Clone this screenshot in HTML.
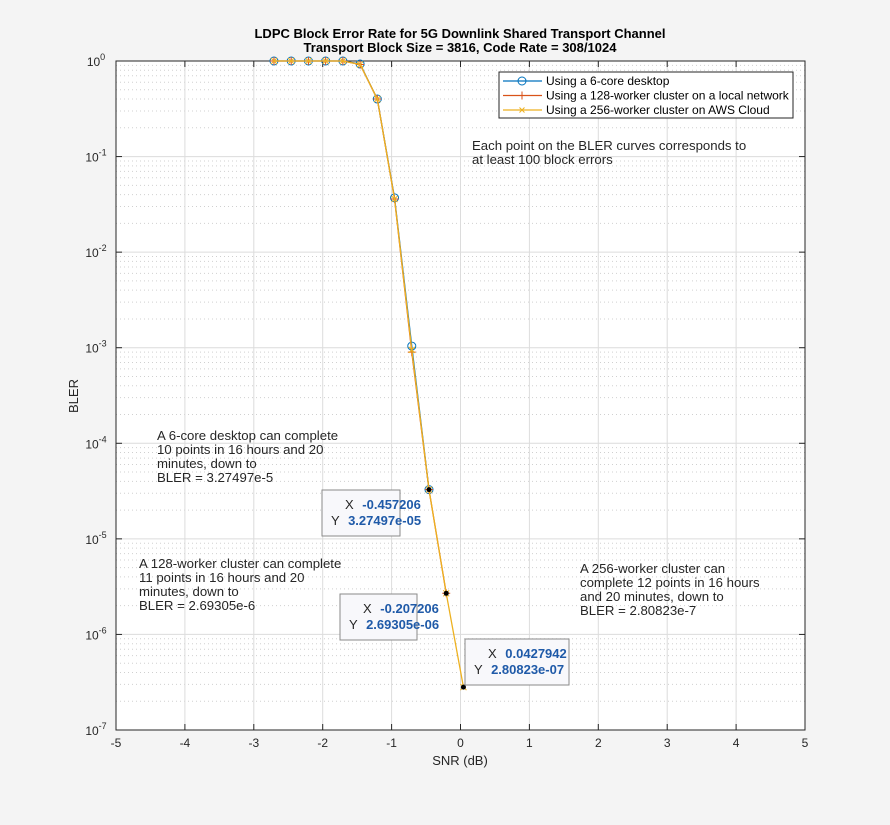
<!DOCTYPE html>
<html><head><meta charset="utf-8"><style>
body{margin:0;background:#f4f4f4;font-family:"Liberation Sans",Arial,sans-serif}
svg text{font-family:"Liberation Sans",Arial,sans-serif}
</style></head><body>
<svg id="chart" width="890" height="820" xmlns="http://www.w3.org/2000/svg">
<rect width="890" height="820" fill="#f4f4f4"/>
<rect x="116" y="61" width="689" height="669" fill="#fff"/>
<g id="grid"></g><g id="axes"></g><g id="series"></g><g id="overlay"></g>
<text x="460" y="38" text-anchor="middle" font-size="13" font-weight="bold" fill="#000">LDPC Block Error Rate for 5G Downlink Shared Transport Channel</text>
<text x="460" y="52" text-anchor="middle" font-size="13" font-weight="bold" fill="#000">Transport Block Size = 3816, Code Rate = 308/1024</text>
<text x="460" y="765" text-anchor="middle" font-size="13" fill="#262626">SNR (dB)</text>
<text x="78" y="396" text-anchor="middle" font-size="13" fill="#262626" transform="rotate(-90 78 396)">BLER</text>
</svg>
<script>
const xTicks=[-5,-4,-3,-2,-1,0,1,2,3,4,5];
const yExps=[0,-1,-2,-3,-4,-5,-6,-7];
const snr=[-2.707206,-2.457206,-2.207206,-1.957206,-1.707206,-1.457206,-1.207206,-0.957206,-0.707206,-0.457206,-0.207206,0.0427942];
const blerDesktop=[1,1,1,1,1,0.93,0.4,0.037,1.04e-3,3.27497e-5];
const bler128=[1,1,1,1,1,0.92,0.4,0.036,9.0e-4,3.27497e-5,2.69305e-6];
const bler256=[1,1,1,1,1,0.92,0.4,0.036,9.5e-4,3.27497e-5,2.69305e-6,2.80823e-7];
const NS="http://www.w3.org/2000/svg";
const X0=116,X1=805,Y0=61,Y1=730;
function sx(v){return X0+(v+5)/10*(X1-X0);}
function sy(v){return Y0+(-Math.log10(v))/7*(Y1-Y0);}
function mk(tag,attrs,parent){const e=document.createElementNS(NS,tag);for(const k in attrs)e.setAttribute(k,attrs[k]);parent.appendChild(e);return e;}
const grid=document.getElementById('grid'),axes=document.getElementById('axes'),ser=document.getElementById('series'),ov=document.getElementById('overlay');
for(let e=-7;e<0;e++){for(let m=2;m<=9;m++){const y=sy(m*Math.pow(10,e));
const l=mk('line',{x1:X0,x2:X1,y1:y,y2:y,stroke:'#d0d0d0','stroke-dasharray':'1 3','stroke-width':1},grid);

}}
xTicks.forEach(t=>{const x=sx(t);
const l=mk('line',{x1:x,x2:x,y1:Y0,y2:Y1,stroke:'#dcdcdc'},grid);


mk('line',{x1:x,x2:x,y1:Y0,y2:Y0+6,stroke:'#262626'},axes);
mk('line',{x1:x,x2:x,y1:Y1,y2:Y1-6,stroke:'#262626'},axes);
const tx=mk('text',{x:x,y:Y1+17,'text-anchor':'middle','font-size':12,fill:'#262626'},axes);tx.textContent=t;

});
yExps.forEach(e=>{const y=sy(Math.pow(10,e));
const l=mk('line',{x1:X0,x2:X1,y1:y,y2:y,stroke:'#dcdcdc'},grid);


mk('line',{x1:X0,x2:X0+6,y1:y,y2:y,stroke:'#262626'},axes);
mk('line',{x1:X1,x2:X1-6,y1:y,y2:y,stroke:'#262626'},axes);
const tx=mk('text',{x:X0-20,y:y+5,'text-anchor':'middle','font-size':12,fill:'#262626'},axes);
tx.innerHTML='10<tspan dy="-6" font-size="9">'+e+'</tspan>';

});
const box=mk('rect',{x:X0,y:Y0,width:X1-X0,height:Y1-Y0,fill:'none',stroke:'#262626'},axes);


function drawSeries(vals,color,marker,name){
const pts=vals.map((v,i)=>sx(snr[i])+','+sy(v)).join(' ');
const pl=mk('polyline',{points:pts,fill:'none',stroke:color,'stroke-width':1.3},ser);


vals.forEach((v,i)=>{const x=sx(snr[i]),y=sy(v);let m;
if(marker==='o')m=mk('circle',{cx:x,cy:y,r:4,fill:'none',stroke:color},ser);
else if(marker==='+')m=mk('path',{d:`M${x-4} ${y}H${x+4}M${x} ${y-4}V${y+4}`,stroke:color},ser);
else m=mk('path',{d:`M${x-3} ${y-3}L${x+3} ${y+3}M${x-3} ${y+3}L${x+3} ${y-3}`,stroke:color},ser);

});}
drawSeries(blerDesktop,'#0072bd','o','desktop');
drawSeries(bler128,'#d95319','+','cluster128');
drawSeries(bler256,'#edb120','x','cluster256');
[[blerDesktop,9],[bler128,10],[bler256,11]].forEach(([a,i])=>{const d=mk('circle',{cx:sx(snr[i]),cy:sy(a[i]),r:2.5,fill:'#000'},ov);

});
const lg=mk('g',{},ov);


mk('rect',{x:499,y:72,width:294,height:46,fill:'#fff',stroke:'#262626'},lg);
[['Using a 6-core desktop','#0072bd','o'],['Using a 128-worker cluster on a local network','#d95319','+'],['Using a 256-worker cluster on AWS Cloud','#edb120','x']].forEach((r,i)=>{
const y=81+i*14.5;mk('line',{x1:503,x2:542,y1:y,y2:y,stroke:r[1],'stroke-width':1.3},lg);
const x=522;
if(r[2]==='o')mk('circle',{cx:x,cy:y,r:4,fill:'none',stroke:r[1]},lg);
else if(r[2]==='+')mk('path',{d:`M${x} ${y-4}V${y+4}`,stroke:r[1]},lg);
else mk('path',{d:`M${x-2.5} ${y-2.5}L${x+2.5} ${y+2.5}M${x-2.5} ${y+2.5}L${x+2.5} ${y-2.5}`,stroke:r[1]},lg);
const t=mk('text',{x:546,y:y+4,'font-size':12,fill:'#000'},lg);t.textContent=r[0];

});
function note(lines,x,y,name){const g=mk('text',{x:x,y:y,'font-size':13.2,fill:'#262626'},ov);


lines.forEach((s,i)=>{const t=mk('tspan',{x:x,dy:i?14:0},g);t.textContent=s;});}
note(['Each point on the BLER curves corresponds to','at least 100 block errors'],472,150,'annotation-block-errors');
note(['A 6-core desktop can complete','10 points in 16 hours and 20','minutes, down to','BLER = 3.27497e-5'],157,440,'annotation-desktop');
note(['A 128-worker cluster can complete','11 points in 16 hours and 20','minutes, down to','BLER = 2.69305e-6'],139,568,'annotation-cluster128');
note(['A 256-worker cluster can','complete 12 points in 16 hours','and 20 minutes, down to','BLER = 2.80823e-7'],580,573,'annotation-cluster256');
function tip(x,y,w,xs,ys,name){const g=mk('g',{},ov);


mk('rect',{x:x,y:y,width:w,height:46,fill:'#f8f8fb',stroke:'#8a8a8a'},g);
const a=mk('text',{x:x+23,y:y+19,'font-size':13,fill:'#262626'},g);a.innerHTML='X <tspan dx="5" font-weight="bold" fill="#1f5aa8">'+xs+'</tspan>';
const b=mk('text',{x:x+9,y:y+35,'font-size':13,fill:'#262626'},g);b.innerHTML='Y <tspan dx="5" font-weight="bold" fill="#1f5aa8">'+ys+'</tspan>';}
tip(322,490,78,'-0.457206','3.27497e-05','datatip-desktop');
tip(340,594,77,'-0.207206','2.69305e-06','datatip-cluster128');
tip(465,639,104,'0.0427942','2.80823e-07','datatip-cluster256');
</script>
</body></html>
